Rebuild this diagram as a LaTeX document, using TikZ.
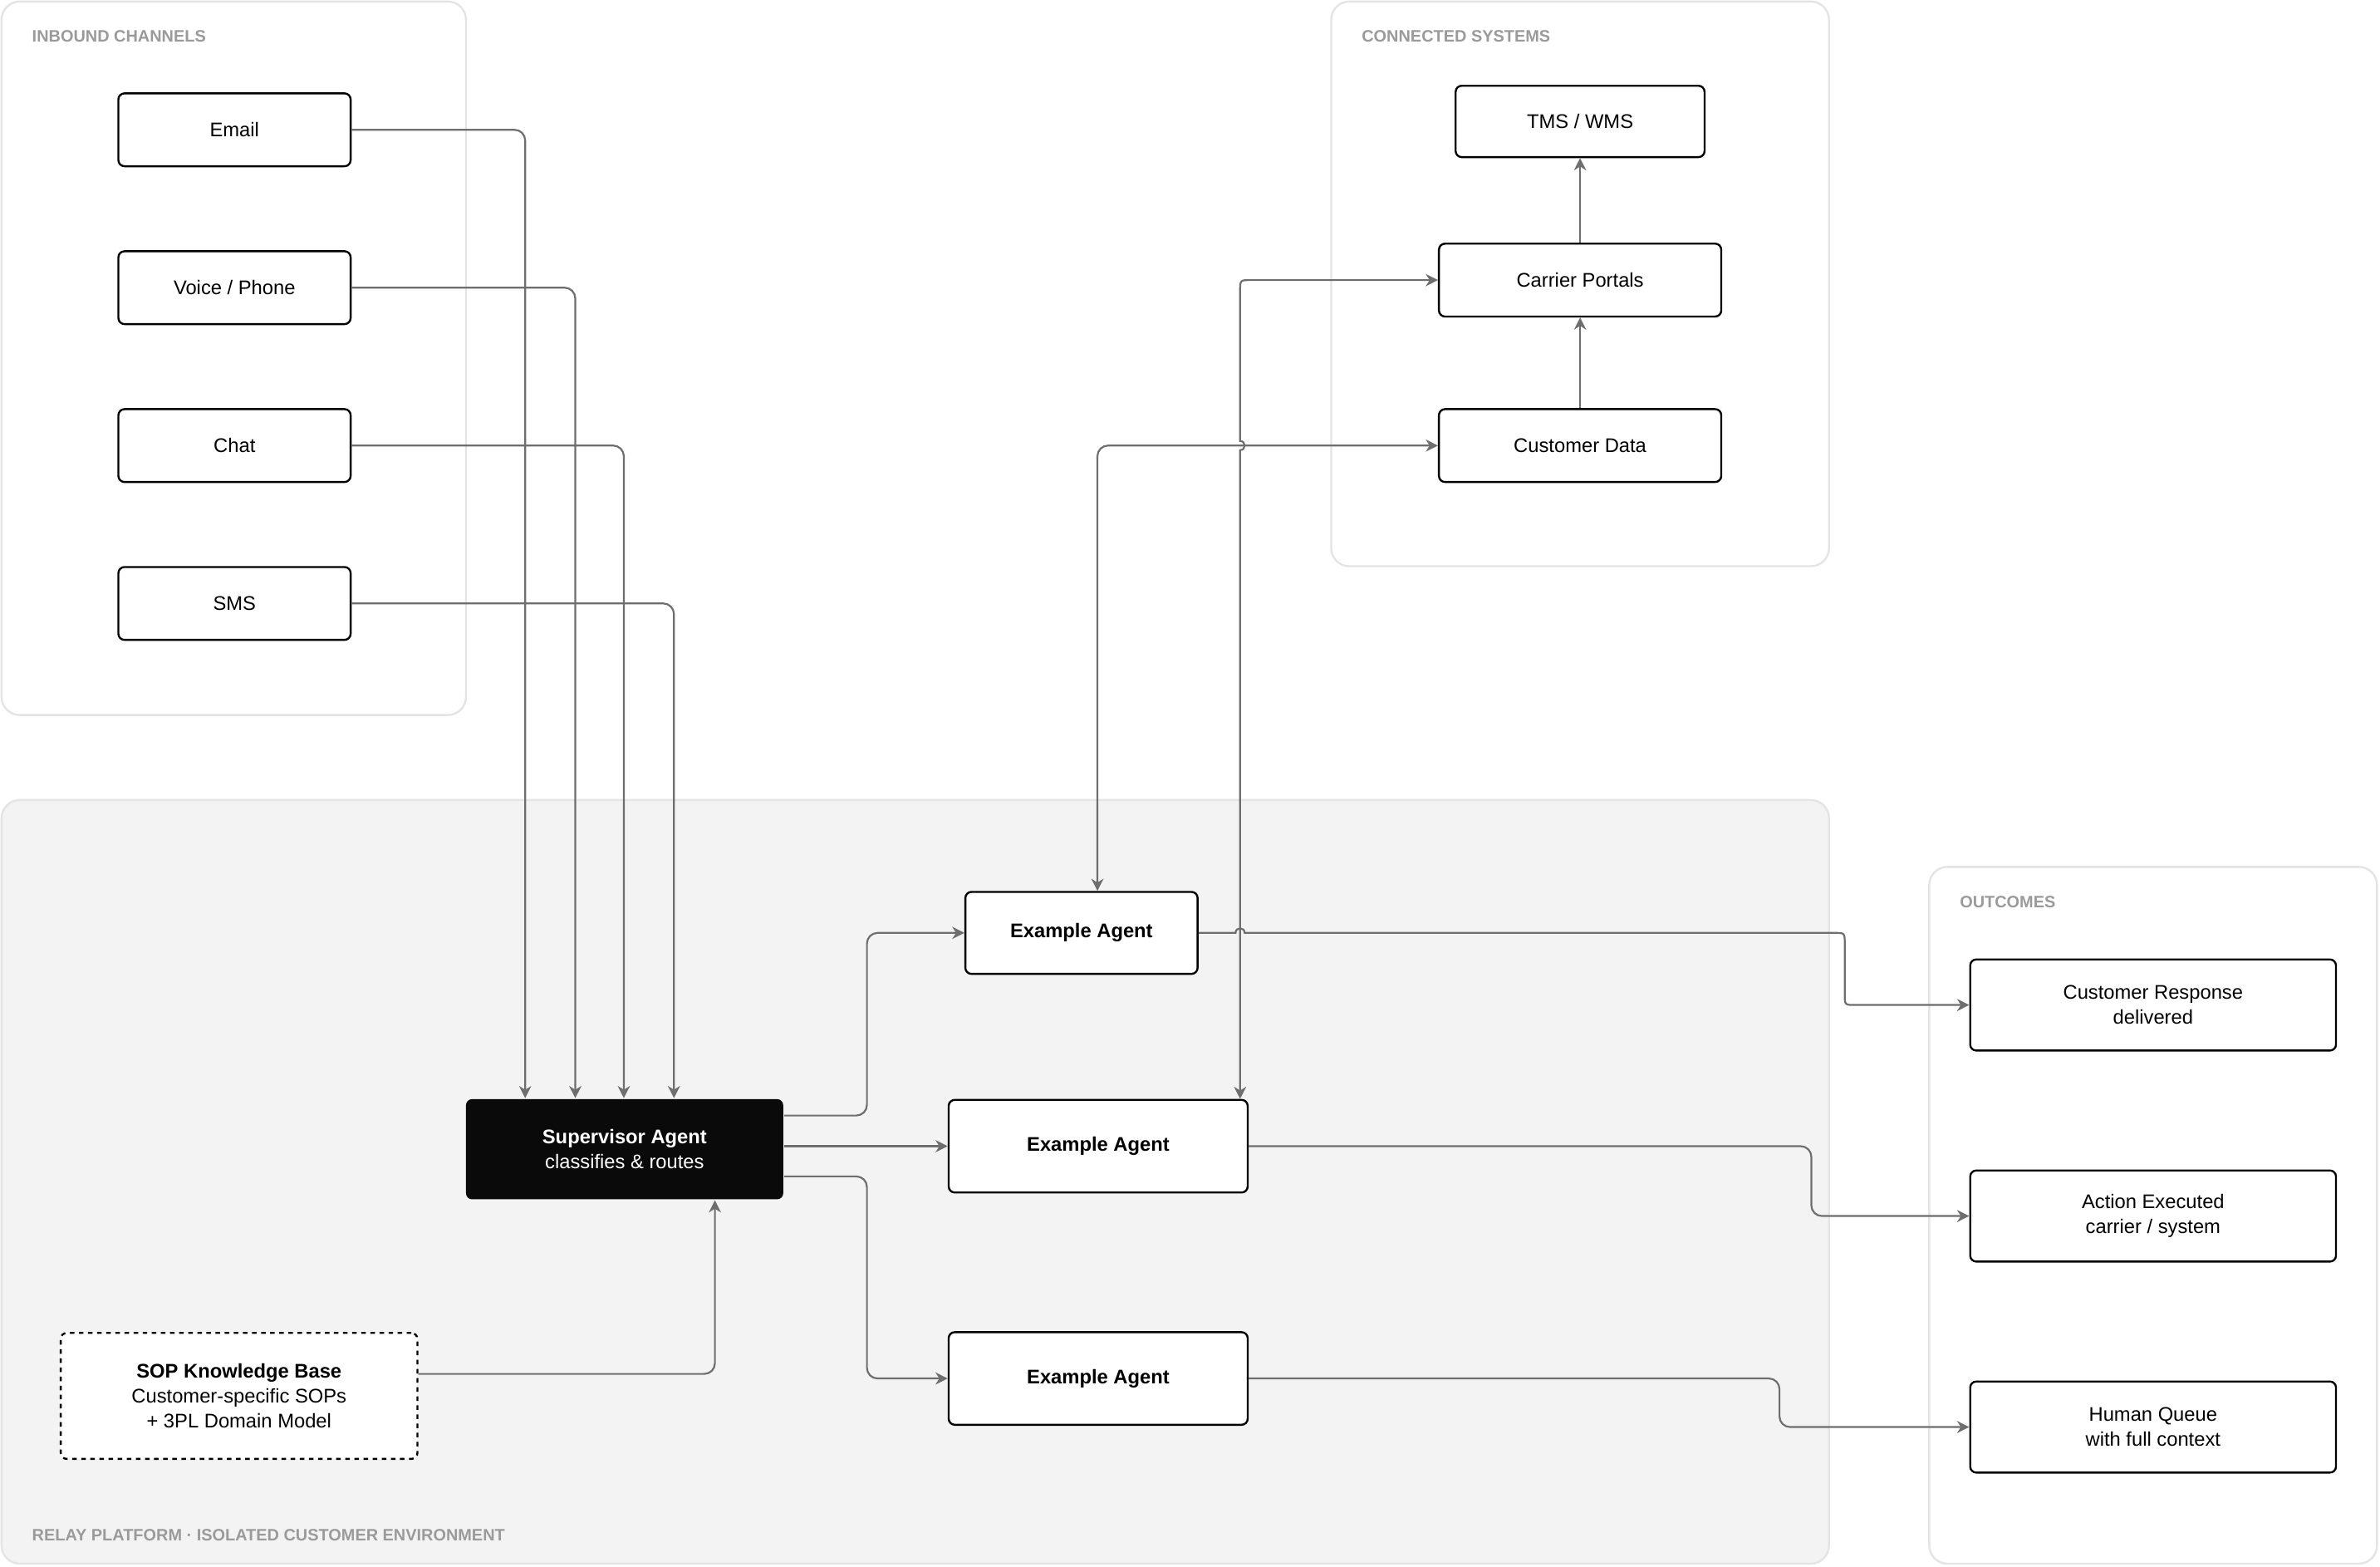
\documentclass[tikz,border=0pt]{standalone}
\usepackage{fontspec}
\setmainfont{Liberation Sans}
\usetikzlibrary{arrows.meta,calc}
\definecolor{lnc}{HTML}{6E6E6E}
\definecolor{panelb}{HTML}{E4E4E4}
\definecolor{platf}{HTML}{F3F3F3}
\definecolor{lbl}{HTML}{9A9A9A}
\definecolor{supf}{HTML}{0A0A0A}
\begin{document}
\begin{tikzpicture}[x=1pt,y=-1pt,
  panel/.style={draw=panelb, line width=1.3pt, rounded corners=12pt},
  plabel/.style={anchor=west, text=lbl, font=\fontsize{10.9}{13}\selectfont\bfseries, inner sep=0pt},
  box/.style={draw=black, line width=1.3pt, rounded corners=4pt, fill=white, align=center, inner sep=0pt, font=\fontsize{13}{16.5}\selectfont, text=black},
  conn/.style={draw=lnc, line width=1.2pt, rounded corners=7pt, -{Stealth[length=8pt,width=8pt,inset=2.5pt]}},
  biconn/.style={draw=lnc, line width=1.2pt, rounded corners=7pt, {Stealth[length=8pt,width=8pt,inset=2.5pt]}-{Stealth[length=8pt,width=8pt,inset=2.5pt]}}
]
\useasboundingbox (0,0) rectangle (1568,1032);
\fill[white] (0,0) rectangle (1568,1032);

% panels
\draw[panel, fill=white] (1,1) rectangle (307,471);
\draw[panel, fill=white] (877,1) rectangle (1205,373);
\draw[panel, fill=platf] (1,527) rectangle (1205,1030);
\draw[panel, fill=white] (1271,571) rectangle (1566,1030);

\node[plabel] (lin) at (21,24) {INBOUND CHANNELS};
\node[plabel] (lcs) at (897,24) {CONNECTED SYSTEMS};
\node[plabel] (lout) at (1291,594) {OUTCOMES};
\node[plabel] (lrel) at (21,1011) {RELAY PLATFORM · ISOLATED CUSTOMER ENVIRONMENT};

% inbound
\node[box, minimum width=153pt, minimum height=48pt] (email) at (154.5,85.5) {Email};
\node[box, minimum width=153pt, minimum height=48pt] (voice) at (154.5,189.5) {Voice / Phone};
\node[box, minimum width=153pt, minimum height=48pt] (chat) at (154.5,293.5) {Chat};
\node[box, minimum width=153pt, minimum height=48pt] (sms) at (154.5,397.5) {SMS};

% connected systems
\node[box, minimum width=164pt, minimum height=47pt] (tms) at (1041,80) {TMS / WMS};
\node[box, minimum width=186pt, minimum height=48pt] (cp) at (1041,184.5) {Carrier Portals};
\node[box, minimum width=186pt, minimum height=48pt] (cd) at (1041,293.5) {Customer Data};

% platform
\node[box, draw=none, fill=supf, text=white, minimum width=209pt, minimum height=66pt] (sup) at (411.5,757) {\textbf{Supervisor Agent}\\classifies \& routes};
\node[box, minimum width=153pt, minimum height=54pt, font=\fontsize{13}{16.5}\selectfont\bfseries] (ea1) at (712.5,614.5) {Example Agent};
\node[box, minimum width=197pt, minimum height=61pt, font=\fontsize{13}{16.5}\selectfont\bfseries] (ea2) at (723.5,755) {Example Agent};
\node[box, minimum width=197pt, minimum height=61pt, font=\fontsize{13}{16.5}\selectfont\bfseries] (ea3) at (723.5,908) {Example Agent};
\node[box, dashed, minimum width=235pt, minimum height=83pt] (sop) at (157.5,919.5) {\textbf{SOP Knowledge Base}\\Customer-specific SOPs\\+ 3PL Domain Model};

% outcomes
\node[box, minimum width=241pt, minimum height=60pt] (cr) at (1418.5,662) {Customer Response\\delivered};
\node[box, minimum width=241pt, minimum height=60pt] (ae) at (1418.5,801) {Action Executed\\carrier / system};
\node[box, minimum width=241pt, minimum height=60pt] (hq) at (1418.5,940) {Human Queue\\with full context};

% helper coordinates
\coordinate (v2) at ($(ea2.north)+(93.5,0)$);
\coordinate (col) at ($(sup.east)+(54.5,0)$);
\coordinate (s1) at ($(sup.east)+(0,-22.2)$);
\coordinate (s3) at ($(sup.east)+(0,17.9)$);
\coordinate (b1) at ($(cr.west)+(-82,0)$);
\coordinate (b2) at ($(ae.west)+(-104,0)$);
\coordinate (b3) at ($(hq.west)+(-125,0)$);
\coordinate (h1) at (v2 |- cd.west);
\coordinate (h2) at (v2 |- ea1.east);
\coordinate (k1) at (v2 |- cp.west);
\coordinate (k2) at (b1 |- ea1.east);

% inbound -> supervisor
\draw[conn] (email.east) -| ($(sup.north)+(-65.5,0)$);
\draw[conn] (voice.east) -| ($(sup.north)+(-32.5,0)$);
\draw[conn] (chat.east) -| ($(sup.north)+(-0.5,0)$);
\draw[conn] (sms.east) -| ($(sup.north)+(32.5,0)$);

% supervisor -> agents
\draw[conn] (s1) -- (col |- s1) -- (col |- ea1.west) -- (ea1.west);
\draw[conn] (sup.east |- ea2.west) -- (ea2.west);
\draw[conn] (s3) -- (col |- s3) -- (col |- ea3.west) -- (ea3.west);

% SOP -> supervisor
\draw[conn] ($(sop.east)+(0,-14.5)$) -| ($(sup.south)+(59.5,0)$);

% agents <-> connected systems
\draw[biconn] (cd.west) -| ($(ea1.north)+(10.5,0)$);
\draw[biconn, sharp corners] (cp.west) -- ($(k1)+(7,0)$) .. controls (k1) .. ($(k1)+(0,7)$)
  -- ($(h1)+(0,-3)$) .. controls ($(h1)+(4,-3)$) and ($(h1)+(4,3)$) .. ($(h1)+(0,3)$) -- (v2);

% connected systems chain
\draw[conn] (cd.north) -- (cp.south);
\draw[conn] (cp.north) -- (tms.south);

% agents -> outcomes
\draw[conn, sharp corners] (ea1.east) -- ($(h2)+(-3,0)$) .. controls ($(h2)+(-3,-4)$) and ($(h2)+(3,-4)$) .. ($(h2)+(3,0)$)
  -- ($(k2)+(-7,0)$) .. controls (k2) .. ($(k2)+(0,7)$) -- ($(b1)+(0,-7)$) .. controls (b1) .. ($(b1)+(7,0)$) -- (cr.west);
\draw[conn] (ea2.east) -- (b2 |- ea2.east) -- (b2) -- (ae.west);
\draw[conn] (ea3.east) -- (b3 |- ea3.east) -- (b3) -- (hq.west);
\end{tikzpicture}
\end{document}
